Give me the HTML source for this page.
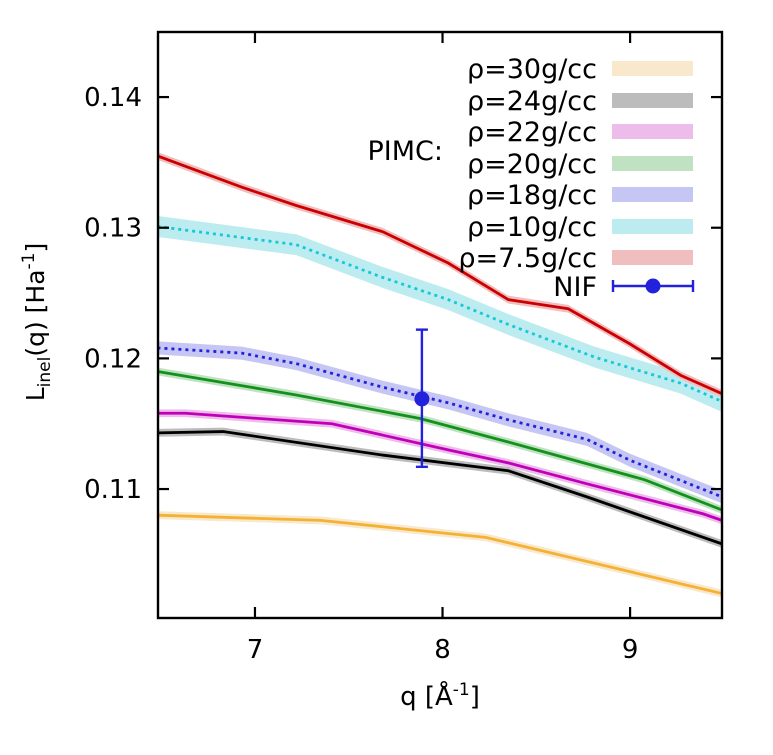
<!DOCTYPE html>
<html><head><meta charset="utf-8"><style>
body{margin:0;background:#fff}
svg text{font-family:"DejaVu Sans","Liberation Sans",sans-serif;fill:#000}
</style></head><body>
<svg id="chart" width="773" height="750" xmlns="http://www.w3.org/2000/svg">
<g id="bands"></g>
<g id="lines"></g>
<g id="axes"></g>
<g id="legend"></g>
</svg>
<script>
const seriesNames = ["ρ=30g/cc","ρ=24g/cc","ρ=22g/cc","ρ=20g/cc","ρ=18g/cc","ρ=10g/cc","ρ=7.5g/cc"];
const q30 = [6.48,7.35,8.23,9.49]; const L30 = [0.1080,0.1076,0.1063,0.1020];
const q24 = [6.48,6.83,7.68,8.35,8.77,9.49]; const L24 = [0.1143,0.1144,0.1126,0.1114,0.1094,0.1058];
const q22 = [6.48,6.63,7.41,8.03,8.35,8.77,9.39,9.49]; const L22 = [0.1158,0.1158,0.1150,0.1130,0.1120,0.1104,0.1081,0.1076];
const q20 = [6.48,7.22,7.88,8.35,9.08,9.49]; const L20 = [0.1190,0.1172,0.1154,0.1136,0.1107,0.1084];
const q18 = [6.48,6.93,7.22,7.68,8.03,8.35,8.77,9.0,9.49]; const L18 = [0.1208,0.1204,0.1196,0.1178,0.1166,0.1153,0.1138,0.1122,0.1094];
const q10 = [6.48,7.22,7.68,8.03,8.35,8.81,9.27,9.49]; const L10 = [0.1301,0.1287,0.1262,0.1245,0.1226,0.1201,0.1181,0.1167];
const q75 = [6.48,6.93,7.22,7.68,8.03,8.35,8.67,9.0,9.27,9.49]; const L75 = [0.1355,0.1331,0.1317,0.1297,0.1273,0.1245,0.1238,0.1211,0.1187,0.1173];
const bandWidth = [0.0003,0.0003,0.0003,0.0003,0.0005,0.0008,0.0003];
const nifQ = [7.89]; const nifL = [0.1169]; const nifLo = [0.1117]; const nifHi = [0.1222];
const xTicks = [7,8,9]; const yTicks = [0.11,0.12,0.13,0.14];

const X0=158,X1=722,Y0=32,Y1=618, qmin=6.483,qmax=9.49, lmin=0.10013,lmax=0.14498;
const X=q=>X0+(q-qmin)/(qmax-qmin)*(X1-X0);
const Y=l=>Y1-(l-lmin)/(lmax-lmin)*(Y1-Y0);
const NS="http://www.w3.org/2000/svg";
function mk(tag,attrs,parent){const e=document.createElementNS(NS,tag);for(const k in attrs)e.setAttribute(k,attrs[k]);parent.appendChild(e);return e;}
const qs=[q30,q24,q22,q20,q18,q10,q75], Ls=[L30,L24,L22,L20,L18,L10,L75];
const lineCol=["#f5b134","#000000","#c000b8","#12921a","#2222dd","#16c8d8","#cc0000"];
const bandCol=["#f8e8cc","#bcbcbc","#eebcea","#c0e2c2","#c6c6f4","#bcecf0","#f0bebe"];
const dash=[null,null,null,null,"3,4","3,4",null];
const bands=document.getElementById('bands'), lines=document.getElementById('lines');
const defs=mk('defs',{},document.getElementById('chart'));
const cp=mk('clipPath',{id:'cp'},defs); mk('rect',{x:X0,y:Y0,width:X1-X0,height:Y1-Y0},cp);
bands.setAttribute('clip-path','url(#cp)'); lines.setAttribute('clip-path','url(#cp)');
for(let i=0;i<7;i++){
  const up=qs[i].map((q,j)=>X(q)+','+Y(Ls[i][j]+bandWidth[i]));
  const dn=qs[i].map((q,j)=>X(q)+','+Y(Ls[i][j]-bandWidth[i])).reverse();
  const b=mk('polygon',{points:up.concat(dn).join(' '),fill:bandCol[i]},bands);
  
  
  const a={points:qs[i].map((q,j)=>X(q)+','+Y(Ls[i][j])).join(' '),fill:'none',stroke:lineCol[i],'stroke-width':2.8};
  if(dash[i])a['stroke-dasharray']=dash[i];
  const l=mk('polyline',a,lines);
  
  
}
const nif=mk('g',{stroke:'#2222dd','stroke-width':2.4},lines);


for(let i=0;i<nifQ.length;i++){
  const x=X(nifQ[i]);
  mk('line',{x1:x,x2:x,y1:Y(nifLo[i]),y2:Y(nifHi[i])},nif);
  mk('line',{x1:x-6,x2:x+6,y1:Y(nifLo[i]),y2:Y(nifLo[i])},nif);
  mk('line',{x1:x-6,x2:x+6,y1:Y(nifHi[i]),y2:Y(nifHi[i])},nif);
  mk('circle',{cx:x,cy:Y(nifL[i]),r:7.5,fill:'#2222dd',stroke:'none'},nif);
}
const ax=document.getElementById('axes');
mk('rect',{x:X0,y:Y0,width:X1-X0,height:Y1-Y0,fill:'none',stroke:'#000','stroke-width':2.4},ax);
xTicks.forEach(t=>{const x=X(t);
  mk('line',{x1:x,x2:x,y1:Y1,y2:Y1-11,stroke:'#000','stroke-width':2.2},ax);
  mk('line',{x1:x,x2:x,y1:Y0,y2:Y0+11,stroke:'#000','stroke-width':2.2},ax);
  const tx=mk('text',{x:x,y:Y1+40,'font-size':26,'text-anchor':'middle'},ax);tx.textContent=t;
  
  
});
yTicks.forEach(t=>{const y=Y(t);
  mk('line',{x1:X0,x2:X0+11,y1:y,y2:y,stroke:'#000','stroke-width':2.2},ax);
  mk('line',{x1:X1,x2:X1-11,y1:y,y2:y,stroke:'#000','stroke-width':2.2},ax);
  const tx=mk('text',{x:X0-16,y:y+9,'font-size':26,'text-anchor':'end'},ax);tx.textContent=t.toFixed(2);
  
  
});
const lg=document.getElementById('legend');
const rowsY=[68,100,131,163,194,226,257];
const order=[0,1,2,3,4,5,6];
order.forEach((i,k)=>{
  const t=mk('text',{x:597,y:rowsY[k]+10,'font-size':27,'text-anchor':'end'},lg);t.textContent=seriesNames[i];
  
  
  const r=mk('rect',{x:612,y:rowsY[k]-7,width:81,height:15,fill:bandCol[i]},lg);
  
  
});
</script>
<svg style="position:absolute;left:0;top:0" width="773" height="750">
<text x="597" y="296" font-size="27" text-anchor="end">NIF</text>
<g stroke="#2222dd" stroke-width="2.4">
<line x1="613" x2="693" y1="286" y2="286"/><line x1="613" x2="613" y1="280" y2="292"/><line x1="693" x2="693" y1="280" y2="292"/>
<circle cx="653" cy="286" r="7.5" fill="#2222dd" stroke="none"/></g>
<text x="443" y="160" font-size="27" text-anchor="end">PIMC:</text>
<text x="440" y="705" font-size="26" text-anchor="middle">q [Å<tspan dy="-10" font-size="17">-1</tspan><tspan dy="10">]</tspan></text>
<text transform="translate(44,322) rotate(-90)" font-size="25" text-anchor="middle">L<tspan dy="6" font-size="17">inel</tspan><tspan dy="-6">(q) [Ha</tspan><tspan dy="-10" font-size="17">-1</tspan><tspan dy="10">]</tspan></text>
</svg>
</body></html>
